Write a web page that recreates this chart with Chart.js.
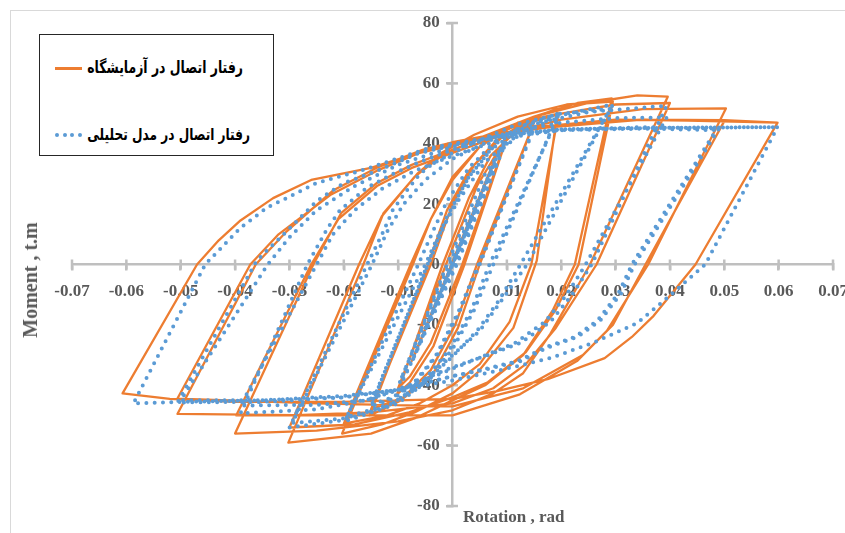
<!DOCTYPE html>
<html><head><meta charset="utf-8">
<script src="https://cdn.jsdelivr.net/npm/chart.js@4"></script>
<style>
html,body{margin:0;padding:0;background:#fff;}
#wrap{position:relative;width:845px;height:533px;overflow:hidden;background:#fff;}
#frame{position:absolute;left:10px;top:10px;width:900px;height:600px;border-left:1px solid #d9d9d9;border-top:1px solid #d9d9d9;}
canvas{position:absolute;left:0;top:0;}
#legend{position:absolute;left:39px;top:34px;width:233px;height:120px;border:1.3px solid #262626;background:#fff;}
.ltxt{position:absolute;font-family:"DejaVu Sans",sans-serif;font-weight:bold;color:#000;white-space:nowrap;direction:rtl;line-height:1;transform:translateY(-50%) scaleY(1.35);font-size:13px;}
.lline{position:absolute;height:2.5px;background:#ED7D31;}
.ldot{position:absolute;width:4px;height:4px;border-radius:50%;background:#5B9BD5;}
.atitle{position:absolute;font-family:"Liberation Serif","Times New Roman",serif;font-weight:bold;color:#595959;white-space:nowrap;line-height:1;}
</style></head>
<body>
<div id="wrap">
  <div id="frame"></div>
  <canvas id="c" width="845" height="533"></canvas>
  <div id="legend"></div>
  <div class="lline" style="left:55px;top:67px;width:27px;"></div>
  <div class="ltxt" id="lt1" style="right:602px;top:68px;">رفتار اتصال در آزمایشگاه</div>
  <div class="ldot" style="left:55px;top:133px;"></div>
  <div class="ldot" style="left:62.5px;top:133px;"></div>
  <div class="ldot" style="left:70px;top:133px;"></div>
  <div class="ldot" style="left:77.5px;top:133px;"></div>
  <div class="ltxt" id="lt2" style="right:595px;top:135px;">رفتار اتصال در مدل تحلیلی</div>
  <div class="atitle" id="xt" style="left:463px;top:508px;font-size:17px;">Rotation , rad</div>
  <div class="atitle" id="yt" style="left:30px;top:280px;font-size:20px;transform:translate(-50%,-50%) rotate(-90deg);">Moment , t.m</div>
</div>
<script>
// ---- Tick settings ----
const xTickMin = -0.07, xTickMax = 0.07, xTickStep = 0.01;
const yTickMin = -80, yTickMax = 80, yTickStep = 20;

// ---- Experimental (laboratory) curve: [rotation rad, moment t.m] ----
const expSmall = [[0,0],[0.0038,17],[0.0032,15],[-0.0036,-15],[-0.0030,-13],[0.0050,22],[0.0042,19],[-0.0050,-21],[-0.0042,-18],[0.0075,33],[0.0065,29],[-0.0075,-32],[-0.0065,-28],[0.0085,38]];
const exp010 = [[0.0100,42],[0.0018,0],[-0.0040,-26],[-0.0078,-37],[-0.0100,-41],[-0.0012,0],[0.0045,26],[0.0085,38],[0.0102,43],[0.0022,0],[-0.0035,-27],[-0.0078,-39],[-0.0102,-43],[-0.0018,0],[0.0030,22],[0.0070,36],[0.0110,43]];
const exp015 = [[0.0150,47],[0.0045,0],[0.0005,-20],[-0.0040,-35],[-0.0090,-44],[-0.0150,-48],[-0.0040,0],[0.0000,20],[0.0040,33],[0.0090,42],[0.0152,48],[0.0050,0],[0.0010,-21],[-0.0035,-36],[-0.0095,-45],[-0.0152,-50],[-0.0045,0],[-0.0010,18],[0.0030,31],[0.0080,41],[0.0140,48]];
const exp020 = [[0.0194,51.7],[0.0155,1.3],[0.0112,-21],[0.0045,-36],[0.0000,-42.7],[-0.0070,-49],[-0.0130,-53],[-0.0203,-56],[-0.0073,0],[-0.0040,15],[0.0000,28],[0.0050,39],[0.0120,47],[0.0195,50],[0.0145,0],[0.0105,-19],[0.0050,-33],[0.0000,-40],[-0.0060,-46],[-0.0120,-50],[-0.0200,-52.7],[-0.0077,0],[-0.0040,15],[0.0000,29],[0.0060,41],[0.0150,49],[0.0230,53.5]];
const exp030 = [[0.0293,55],[0.0225,0],[0.0185,-15],[0.0130,-30],[0.0060,-40],[0.0000,-45],[-0.0070,-51],[-0.0150,-56],[-0.0302,-59],[-0.0164,0],[-0.0127,17],[-0.0065,30],[-0.0020,37],[0.0040,43],[0.0120,49],[0.0210,53],[0.0295,54],[0.0232,0],[0.0190,-15],[0.0135,-29],[0.0065,-39],[0.0000,-44],[-0.0080,-49],[-0.0180,-53],[-0.0300,-54],[-0.0172,0],[-0.0130,16],[-0.0070,29],[-0.0020,36],[0.0050,42],[0.0150,49],[0.0250,53.5],[0.0340,56]];
const exp040 = [[0.0396,55.6],[0.0253,0],[0.0180,-23],[0.0130,-36],[0.0075,-42.7],[0.0000,-48.3],[-0.0100,-52],[-0.0250,-55],[-0.0400,-56],[-0.0256,0],[-0.0205,17],[-0.0139,27],[-0.0075,33],[0.0000,38],[0.0100,45],[0.0200,50],[0.0300,53],[0.0400,53.5],[0.0265,0],[0.0190,-21],[0.0135,-33],[0.0075,-41],[0.0000,-46],[-0.0150,-49],[-0.0300,-50],[-0.0398,-50],[-0.0260,0],[-0.0210,15],[-0.0139,26],[-0.0075,32],[0.0000,37],[0.0100,43.5],[0.0200,48],[0.0350,51.5]];
const exp050 = [[0.0503,51.7],[0.0360,0],[0.0284,-22],[0.0229,-32],[0.0124,-43],[0.0000,-50],[-0.0250,-50],[-0.0506,-49.5],[-0.0362,0],[-0.0305,11],[-0.0220,24.5],[-0.0140,32],[-0.0055,38],[0.0000,40.5],[0.0150,45.5],[0.0300,48],[0.0500,47.5],[0.0355,0],[0.0295,-20],[0.0240,-30],[0.0130,-41],[0.0000,-47],[-0.0250,-46],[-0.0506,-44.4],[-0.0372,0],[-0.0320,10],[-0.0225,23],[-0.0140,31],[-0.0060,37],[0.0000,39.5],[0.0150,45],[0.0350,48]];
const exp060 = [[0.0598,47],[0.0447,0],[0.0370,-17],[0.0330,-24],[0.0280,-31],[0.0175,-38],[0.0080,-42],[0.0000,-44.5],[-0.0200,-45.5],[-0.0400,-45.5],[-0.0520,-44.5],[-0.0607,-42.7],[-0.0470,0],[-0.0430,8],[-0.0390,14.6],[-0.0330,22],[-0.0260,28],[-0.0150,32],[-0.0080,36],[0.0000,40],[0.0100,43.5],[0.0200,46],[0.0350,48],[0.0500,47.8],[0.0598,47]];

// ---- Analytical model curve: [rotation rad, moment t.m] ----
const modelSmall = [[0,0],[0.0037,16],[-0.0037,-16],[0.0050,21.5],[-0.0050,-21.5],[0.0075,32.5],[-0.0075,-32.5],[0.0088,38.5],[0.0096,40]];
const model010 = [[0.0006,0],[-0.0088,-37],[-0.0096,-38.5],[-0.0006,0],[0.0088,38],[0.0098,40.5],[0.0008,0],[-0.0090,-38],[-0.0098,-39.5]];
const model015 = [[-0.0010,0],[0.0060,30],[0.0090,38],[0.0120,42.5],[0.0150,45],[0.0048,0],[0.0010,-16],[-0.0030,-30],[-0.0070,-39],[-0.0110,-44],[-0.0150,-46.5],[-0.0045,0],[-0.0010,15],[0.0030,29],[0.0070,38],[0.0110,43],[0.0150,45.5],[0.0050,0],[0.0012,-16],[-0.0028,-30],[-0.0070,-39.5],[-0.0110,-44.5],[-0.0150,-47]];
const model020 = [[-0.0046,0],[-0.0010,16],[0.0030,29],[0.0080,40],[0.0130,46],[0.0195,50],[0.0075,0],[0.0040,-15],[0.0000,-28],[-0.0050,-39],[-0.0100,-46],[-0.0198,-52],[-0.0063,0],[-0.0036,11],[-0.0010,21],[0.0030,32],[0.0080,41],[0.0130,46],[0.0195,49],[0.0068,0],[0.0035,-15],[-0.0005,-28],[-0.0055,-39],[-0.0110,-46],[-0.0195,-50.5]];
const model030 = [[-0.0050,0],[-0.0025,10],[0.0010,21],[0.0060,34],[0.0120,43],[0.0200,49.5],[0.0295,53],[0.0137,0],[0.0090,-12],[0.0050,-22],[0.0000,-30],[-0.0060,-40],[-0.0120,-47],[-0.0200,-51.5],[-0.0300,-54],[-0.0157,0],[-0.0127,11],[-0.0110,18],[-0.0084,24.5],[-0.0060,30],[-0.0036,33.4],[0.0000,37],[0.0060,42],[0.0120,46.5],[0.0200,50],[0.0290,51.5],[0.0125,0],[0.0085,-12],[0.0045,-22],[0.0000,-30.5],[-0.0060,-40.5],[-0.0120,-47],[-0.0200,-51],[-0.0295,-52.5]];
const model040 = [[-0.0148,0],[-0.0120,11],[-0.0090,20],[-0.0050,28],[0.0000,35],[0.0080,42],[0.0160,47],[0.0250,50.5],[0.0394,52.6],[0.0256,0],[0.0220,-10],[0.0180,-19],[0.0125,-26],[0.0065,-30],[0.0000,-34],[-0.0080,-40],[-0.0160,-45],[-0.0250,-48],[-0.0390,-49.3],[-0.0267,0],[-0.0230,12],[-0.0207,18],[-0.0157,25.5],[-0.0110,30],[-0.0060,34],[0.0000,38],[0.0100,43.5],[0.0200,47],[0.0300,48.5],[0.0394,48.7],[0.0245,0],[0.0210,-10],[0.0170,-19],[0.0115,-26],[0.0055,-30.5],[0.0000,-34.5],[-0.0080,-40.5],[-0.0160,-45],[-0.0250,-46.5],[-0.0390,-46.7]];
const model050 = [[-0.0250,0],[-0.0220,10],[-0.0180,18],[-0.0130,25],[-0.0070,31],[0.0000,36],[0.0100,42],[0.0200,44.5],[0.0350,45.5],[0.0490,45],[0.0335,0],[0.0310,-9.6],[0.0272,-18.5],[0.0230,-24],[0.0175,-27.5],[0.0125,-32],[0.0056,-35],[0.0000,-37],[-0.0100,-41.5],[-0.0200,-44],[-0.0350,-45.5],[-0.0506,-45.7],[-0.0360,1.3],[-0.0305,11],[-0.0250,21],[-0.0200,27],[-0.0139,31],[-0.0065,36.7],[0.0000,39.5],[0.0100,43],[0.0200,44.5],[0.0350,45],[0.0485,44.5],[0.0330,0],[0.0305,-9.6],[0.0267,-18.5],[0.0225,-24],[0.0170,-27.5],[0.0120,-32],[0.0050,-35],[0.0000,-37],[-0.0100,-41.5],[-0.0200,-44],[-0.0350,-45],[-0.0500,-45]];
const model060 = [[-0.0340,0],[-0.0300,9],[-0.0250,18],[-0.0180,26],[-0.0100,33],[0.0000,39],[0.0100,43],[0.0200,44.8],[0.0400,45.3],[0.0598,45.5],[0.0465,0],[0.0385,-12.6],[0.0339,-19.5],[0.0258,-26],[0.0180,-31],[0.0088,-35],[0.0000,-38.4],[-0.0100,-41.5],[-0.0200,-43.5],[-0.0350,-45],[-0.0500,-45.5],[-0.0587,-46],[-0.0455,0],[-0.0390,12.2],[-0.0340,19],[-0.0305,22],[-0.0250,27],[-0.0170,31],[-0.0096,35.4],[-0.0047,38.4],[0.0000,40],[0.0100,43],[0.0200,44.8],[0.0400,45.3],[0.0598,45.5]];

const expCurve = [].concat(expSmall, exp010, exp015, exp020, exp030, exp040, exp050, exp060);
const modelCurve = [].concat(modelSmall, model010, model015, model020, model030, model040, model050, model060);
const toXY = arr => arr.map(p => ({x: p[0], y: p[1]}));

const axisColor = '#BFBFBF';
const tickFont = {family: '"Liberation Serif","Times New Roman",serif', weight: 'bold', size: 17};

function zeroFit(s) {
  s.paddingLeft = 0; s.paddingRight = 0; s.paddingTop = 0; s.paddingBottom = 0;
  if (s.isHorizontal()) s.height = 0; else s.width = 0;
}

const crossTicks = {
  id: 'crossTicks',
  beforeDatasetsDraw(chart) {
    const {ctx, scales: {x, y}} = chart;
    const x0 = x.getPixelForValue(0), y0 = y.getPixelForValue(0);
    ctx.save();
    ctx.strokeStyle = axisColor; ctx.lineWidth = 2.5;
    x.ticks.forEach(t => {
      const px = x.getPixelForValue(t.value);
      ctx.beginPath(); ctx.moveTo(px, y0 - 5); ctx.lineTo(px, y0 + 5); ctx.stroke();
    });
    y.ticks.forEach(t => {
      const py = y.getPixelForValue(t.value);
      ctx.beginPath(); ctx.moveTo(x0 - 5.5, py); ctx.lineTo(x0 + 5.5, py); ctx.stroke();
    });
    ctx.restore();
  }
};

new Chart(document.getElementById('c'), {
  type: 'scatter',
  data: {
    datasets: [
      {label: 'رفتار اتصال در مدل تحلیلی', data: toXY(modelCurve), showLine: true, borderColor: '#5B9BD5', backgroundColor: '#5B9BD5',
       borderWidth: 4, borderDash: [0, 8.3], borderCapStyle: 'round', pointRadius: 0, tension: 0, order: 0},
      {label: 'رفتار اتصال در آزمایشگاه', data: toXY(expCurve), showLine: true, borderColor: '#ED7D31', backgroundColor: '#ED7D31',
       borderWidth: 2.3, pointRadius: 0, tension: 0, borderJoinStyle: 'round', order: 1}
    ]
  },
  options: {
    responsive: false, animation: false, devicePixelRatio: 1,
    layout: {padding: {left: 72, right: 12, top: 23, bottom: 27}},
    plugins: {legend: {display: false}, tooltip: {enabled: false}},
    scales: {
      x: {
        type: 'linear', min: xTickMin, max: xTickMax, position: {y: 0},
        afterFit: zeroFit,
        grid: {display: true, drawOnChartArea: false, drawTicks: true, tickLength: 5, color: axisColor, lineWidth: 2.5},
        border: {display: true, color: axisColor, width: 2.5},
        ticks: {stepSize: xTickStep, autoSkip: false, maxRotation: 0, minRotation: 0, padding: 12, color: '#595959', font: tickFont,
                callback: v => String(+(+v).toFixed(2))}
      },
      y: {
        type: 'linear', min: yTickMin, max: yTickMax, position: {x: 0},
        afterFit: zeroFit,
        grid: {display: true, drawOnChartArea: false, drawTicks: true, tickLength: 5, color: axisColor, lineWidth: 2.5},
        border: {display: true, color: axisColor, width: 2.5},
        ticks: {stepSize: yTickStep, autoSkip: false, padding: 8, color: '#595959', font: tickFont,
                callback: v => String(Math.round(v)) + '\u2002\u2005'}
      }
    }
  },
  plugins: [crossTicks]
});

function fitWidth(id, target) {
  const el = document.getElementById(id);
  const w = el.getBoundingClientRect().width;
  const fs = parseFloat(getComputedStyle(el).fontSize);
  if (w > 0) el.style.fontSize = (fs * target / w) + 'px';
}
fitWidth('lt1', 156);
fitWidth('lt2', 163);
</script>
</body></html>
